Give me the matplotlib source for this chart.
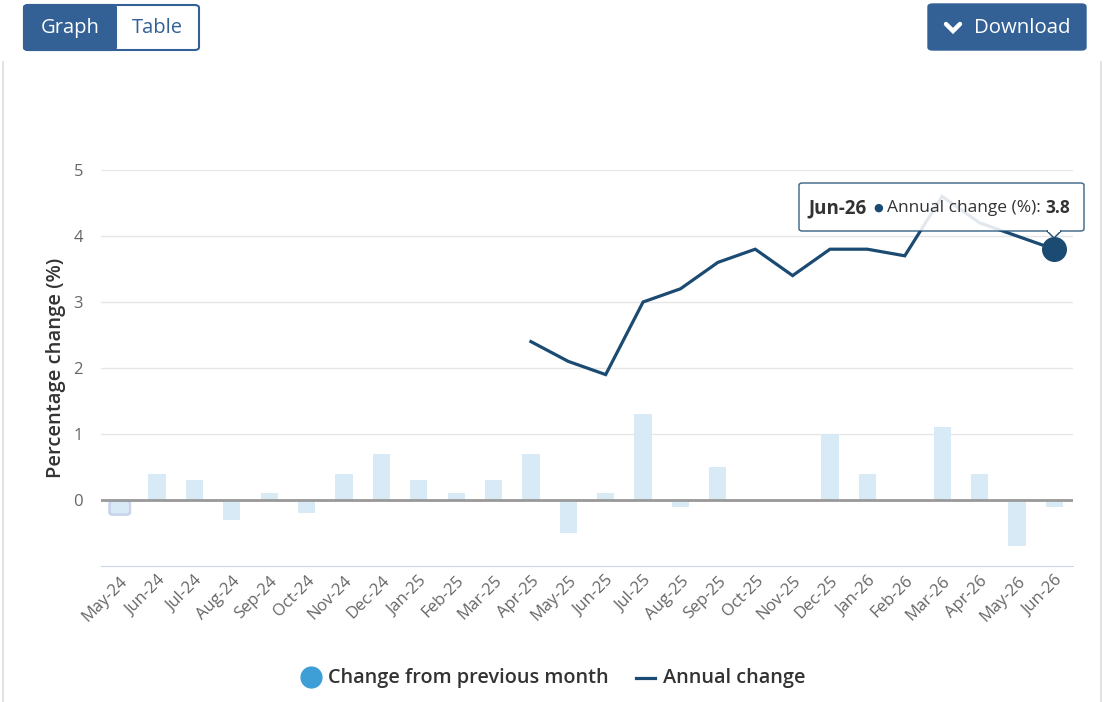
import matplotlib
matplotlib.use("Agg")
import matplotlib.pyplot as plt
from matplotlib.patches import FancyBboxPatch, Rectangle, Polygon
from matplotlib.lines import Line2D
import numpy as np

plt.rcParams['font.family'] = ['Open Sans', 'DejaVu Sans']

months = ['May-24', 'Jun-24', 'Jul-24', 'Aug-24', 'Sep-24', 'Oct-24', 'Nov-24',
          'Dec-24', 'Jan-25', 'Feb-25', 'Mar-25', 'Apr-25', 'May-25', 'Jun-25',
          'Jul-25', 'Aug-25', 'Sep-25', 'Oct-25', 'Nov-25', 'Dec-25', 'Jan-26',
          'Feb-26', 'Mar-26', 'Apr-26', 'May-26', 'Jun-26']
monthly_change = [-0.2, 0.4, 0.3, -0.3, 0.1, -0.2, 0.4, 0.7, 0.3, 0.1, 0.3, 0.7,
                  -0.5, 0.1, 1.3, -0.1, 0.5, 0.0, 0.0, 1.0, 0.4, 0.0, 1.1, 0.4,
                  -0.7, -0.1]
annual_change = [None] * 11 + [2.4, 2.1, 1.9, 3.0, 3.2, 3.6, 3.8, 3.4, 3.8, 3.8,
                               3.7, 4.6, 4.2, 4.0, 3.8]
y_ticks = [0, 1, 2, 3, 4, 5]

W, H = 1107, 702
NAVY = '#1b4b72'
BAR = '#d8eaf5'
BTN = '#336196'


def fx(x):
    return x / W


def fy(y):
    return 1 - y / H


fig = plt.figure(figsize=(W / 100, H / 100), dpi=100)
ax = fig.add_axes([fx(101), fy(566), fx(1073 - 101), (566 - 170) / H])

x = np.arange(len(months))
ax.bar(x, monthly_change, width=0.46, color=BAR, zorder=2)

ann = np.array([np.nan if v is None else v for v in annual_change])
ax.plot(x, ann, color=NAVY, lw=2.3, zorder=4, solid_joinstyle='miter')
ax.plot(x[-1], ann[-1], 'o', ms=17, color=NAVY, zorder=5)

# hover outline on first bar
ax.add_patch(FancyBboxPatch((x[0] - 0.27, monthly_change[0] - 0.02), 0.54,
                            -monthly_change[0] + 0.01,
                            boxstyle='round,pad=0,rounding_size=0.08',
                            fc='none', ec='#c9d3ea', lw=2, zorder=3,
                            mutation_aspect=0.4))

ax.set_xlim(-0.5, len(months) - 0.5)
ax.set_ylim(-1, 5)
ax.set_yticks(y_ticks)
ax.yaxis.grid(True, color='#e6e6e6', lw=1)
ax.axhline(0, color='#999999', lw=2, zorder=3)
ax.set_axisbelow(True)
for s in ['top', 'right', 'left']:
    ax.spines[s].set_visible(False)
ax.spines['bottom'].set_color('#ccd6eb')
ax.tick_params(axis='y', length=0, labelsize=12, labelcolor='#666666', pad=13)
ax.tick_params(axis='x', length=0, labelsize=12, labelcolor='#666666', pad=5)
ax.set_xticks(x)
ax.set_xticklabels(months, rotation=45, ha='right', rotation_mode='anchor')
ax.set_ylabel('Percentage change (%)', fontsize=14.5, color='#333333',
              fontweight='semibold', labelpad=5)

# legend
fig.add_artist(Line2D([fx(311)], [fy(677)], marker='o', ms=15, color='#3d9fd6',
                      transform=fig.transFigure))
fig.text(fx(328), fy(678), 'Change from previous month', fontsize=14.3,
         color='#333333', fontweight='semibold', va='center')
fig.add_artist(Line2D([fx(636), fx(655)], [fy(678), fy(678)], color=NAVY, lw=2.3,
                      transform=fig.transFigure))
fig.text(fx(663), fy(678), 'Annual change', fontsize=14.3, color='#333333',
         fontweight='semibold', va='center')

# tooltip (kept inside the axes so the chained text sits above it)
tip = FancyBboxPatch((fx(799), fy(231)), fx(1084 - 799), (231 - 183) / H,
                     boxstyle='round,pad=0,rounding_size=0.003',
                     transform=fig.transFigure, fc='white', ec=NAVY, lw=1,
                     alpha=0.88, zorder=10, clip_on=False)
ax.add_patch(tip)
ax.add_patch(Polygon([(fx(1047), fy(231)), (fx(1061), fy(231)), (fx(1054), fy(238))],
                     closed=True, transform=fig.transFigure, fc='white',
                     ec=NAVY, lw=1, zorder=10, clip_on=False))
ax.add_patch(Rectangle((fx(1047.7), fy(232)), fx(12.6), 2.5 / H,
                       transform=fig.transFigure, fc='white', ec='none',
                       zorder=11, clip_on=False))
t1 = ax.text(fx(808), fy(208), months[-1], fontsize=13.5, fontweight='bold',
             color='#333333', va='center', zorder=12, transform=fig.transFigure)
t2 = ax.annotate('\u25cf', xy=(1, 0.5), xycoords=t1, xytext=(5, 0),
                 textcoords='offset points', va='center', fontsize=8,
                 color=NAVY, zorder=12, annotation_clip=False)
t3 = ax.annotate('Annual change (%): ', xy=(1, 0.5), xycoords=t2, xytext=(3, 0),
                 textcoords='offset points', va='center',
                 fontsize=12.5, color='#333333', zorder=12, annotation_clip=False)
ax.annotate(f'{annual_change[-1]}', xy=(1, 0.5), xycoords=t3, va='center',
            fontsize=12.5, fontweight='bold', color='#333333', zorder=12,
            annotation_clip=False)

# buttons
fig.add_artist(FancyBboxPatch((fx(24), fy(50)), fx(175), 45 / H,
                              boxstyle='round,pad=0,rounding_size=0.004',
                              transform=fig.transFigure, fc='white', ec=BTN, lw=1.5))
fig.add_artist(FancyBboxPatch((fx(24), fy(50)), fx(92), 45 / H,
                              boxstyle='round,pad=0,rounding_size=0.004',
                              transform=fig.transFigure, fc=BTN, ec=BTN, lw=1.5))
fig.text(fx(70), fy(28), 'Graph', fontsize=14.5, color='white', ha='center', va='center')
fig.text(fx(157), fy(28), 'Table', fontsize=14.5, color=BTN, ha='center', va='center')
fig.add_artist(FancyBboxPatch((fx(928), fy(50)), fx(158), 46 / H,
                              boxstyle='round,pad=0,rounding_size=0.004',
                              transform=fig.transFigure, fc=BTN, ec=BTN))
fig.add_artist(Line2D([fx(946), fx(953), fx(960)], [fy(24), fy(31), fy(24)],
                      color='white', lw=3.2, transform=fig.transFigure,
                      solid_capstyle='round', solid_joinstyle='miter'))
fig.text(fx(1022), fy(28), 'Download', fontsize=14.7, color='white', ha='center',
         va='center')

# container borders
for px in (3, 1101):
    fig.add_artist(Line2D([fx(px), fx(px)], [0, fy(62)], color='#e3e3e3', lw=1.5,
                          transform=fig.transFigure))

fig.savefig('out.png', dpi=100)
